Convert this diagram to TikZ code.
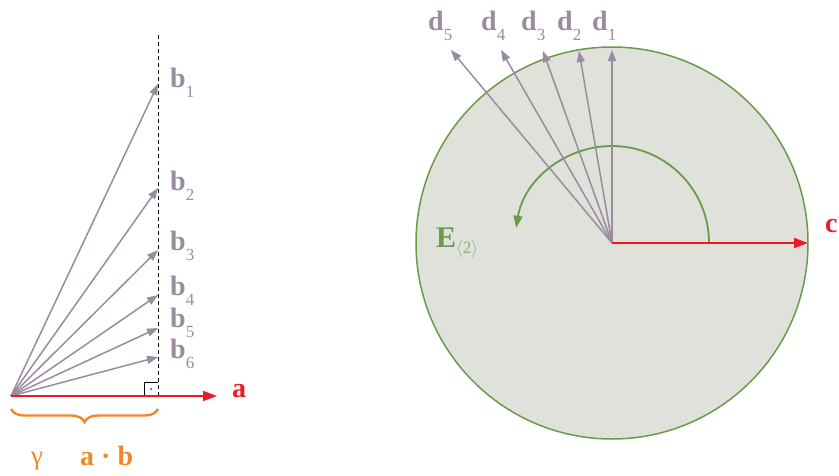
\documentclass[tikz,border=0pt]{standalone}
\usepackage{fontspec}
\setmainfont{Liberation Serif}
\usetikzlibrary{arrows.meta,decorations.pathreplacing}
\definecolor{vpurple}{HTML}{9A8B9E}
\definecolor{vred}{HTML}{ED1C24}
\definecolor{vorange}{HTML}{F0882A}
\definecolor{vgreen}{HTML}{6A9A4C}
\definecolor{vfill}{HTML}{DFE1DA}
\definecolor{vlgreen}{HTML}{8DB07C}
\newcommand{\vlab}[2]{\fontsize{28}{28}\selectfont\textbf{#1}\raisebox{-10pt}{\fontsize{17}{17}\selectfont #2}}
\begin{document}
\begin{tikzpicture}[x=1pt,y=-1pt,
  vec/.style={vpurple,line width=1.5pt,-{Triangle[length=11pt,width=8pt]}},
  redvec/.style={vred,line width=2pt,-{Triangle[length=14pt,width=10pt]}},
  lab/.style={vpurple,anchor=base west,inner sep=0pt},
  big/.style={font=\fontsize{28}{28}\selectfont\bfseries}]
\useasboundingbox (0,0) rectangle (839,475);
% ---------- left part ----------
\coordinate (O) at (11,396);
\coordinate (A) at (217,396);
\coordinate (F) at (158,396);
\coordinate (T) at (158,32);
\coordinate (b1) at (158,84);
\coordinate (b2) at (158,188);
\coordinate (b3) at (158,250);
\coordinate (b4) at (158,295);
\coordinate (b5) at (158,328);
\coordinate (b6) at (158,357);
\draw[black,line width=1pt,dash pattern=on 4pt off 3pt] (F) -- (T);
\draw[black,line width=0.8pt] (144,396) |- (158,382);
\fill[black] (151,389) circle (0.9pt);
\foreach \i in {1,...,6} \draw[vec] (O) -- (b\i);
\draw[redvec] (O) -- (A);
\node[lab] (lb1) at (170,87) {\vlab{b}{1}};
\node[lab] (lb2) at (170,190) {\vlab{b}{2}};
\node[lab] (lb3) at (170,250) {\vlab{b}{3}};
\node[lab] (lb4) at (170,295) {\vlab{b}{4}};
\node[lab] (lb5) at (170,327) {\vlab{b}{5}};
\node[lab] (lb6) at (170,358) {\vlab{b}{6}};
\node[big,vred,anchor=base west,inner sep=0pt] (la) at (232,397) {a};
\draw[vorange,line width=2.4pt,decorate,decoration={brace,mirror,amplitude=13pt,aspect=0.5}] (11,409) -- (158,409);
\node[vorange,anchor=base west,inner sep=0pt,font=\fontsize{27}{27}\selectfont] (lg) at (31,464) {γ};
\node[vorange,anchor=base west,inner sep=0pt,big] (lab) at (80,465) {a · b};
% ---------- right part ----------
\coordinate (C) at (612,243);
\draw[vgreen,fill=vfill,line width=1.5pt] (C) circle (196);
\draw[vgreen,line width=1.8pt,-{Triangle[length=12pt,width=9pt]}] (709,243) arc[start angle=0,end angle=-171,radius=97];
\coordinate (d1) at (612,50);
\coordinate (d2) at (579,51);
\coordinate (d3) at (543,51);
\coordinate (d4) at (501,50);
\coordinate (d5) at (451,50);
\foreach \i in {1,...,5} \draw[vec] (C) -- (d\i);
\coordinate (Ce) at (808,243);
\draw[redvec] (C) -- (Ce);
\node[lab] (ld1) at (592,30) {\vlab{d}{1}};
\node[lab] (ld2) at (557,30) {\vlab{d}{2}};
\node[lab] (ld3) at (521,30) {\vlab{d}{3}};
\node[lab] (ld4) at (481,30) {\vlab{d}{4}};
\node[lab] (ld5) at (428,30) {\vlab{d}{5}};
\node[big,vred,anchor=base west,inner sep=0pt] (lc) at (825,232) {c};
\node[vgreen,anchor=base west,inner sep=0pt,font=\fontsize{30}{30}\selectfont\bfseries] (lE) at (436,247) {E\raisebox{-6pt}{\textcolor{vlgreen}{\fontsize{17}{17}\selectfont\normalfont$\langle$2$\rangle$}}};
\end{tikzpicture}
\end{document}
